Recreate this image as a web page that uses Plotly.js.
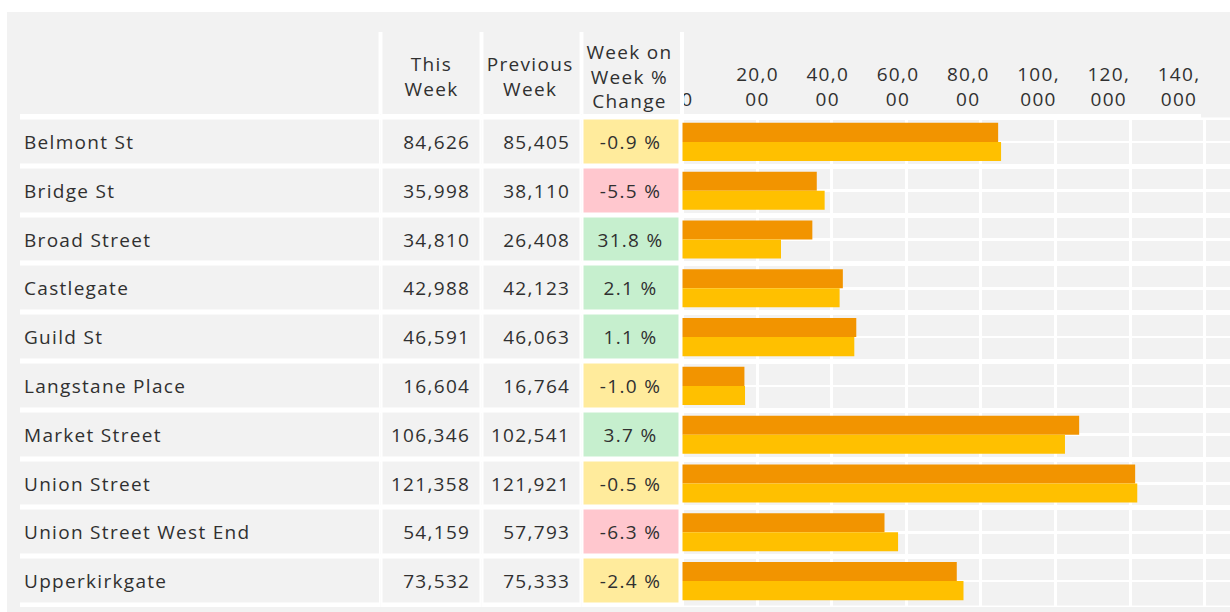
<!DOCTYPE html>
<html>
<head>
<meta charset="utf-8">
<script src="https://cdn.plot.ly/plotly-3.0.1.min.js"></script>
<style>
html, body { margin: 0; padding: 0; background: #ffffff; }
#chart { position: absolute; left: 7px; top: 12px; width: 1223px; height: 600px; }
#chart text { letter-spacing: 1.3px; }
</style>
</head>
<body>
<div id="chart"></div>
<script>
// ---- data ----
const streets = ['Belmont St', 'Bridge St', 'Broad Street', 'Castlegate', 'Guild St',
  'Langstane Place', 'Market Street', 'Union Street', 'Union Street West End', 'Upperkirkgate'];
const thisWeek = [84626, 35998, 34810, 42988, 46591, 16604, 106346, 121358, 54159, 73532];
const previousWeek = [85405, 38110, 26408, 42123, 46063, 16764, 102541, 121921, 57793, 75333];
const weekChange = [-0.9, -5.5, 31.8, 2.1, 1.1, -1.0, 3.7, -0.5, -6.3, -2.4];
const columnHeaders = ['This<br>Week', 'Previous<br>Week', 'Week on<br>Week %<br>Change'];
const seriesNames = ['This Week', 'Previous Week'];
const axisTickValues = [0, 20000, 40000, 60000, 80000, 100000, 120000, 140000];

// ---- styling / layout helpers ----
const W = 1223, H = 600, OX = 7, OY = 12;
const px = x => (x - OX) / W;
const py = y => 1 - (y - OY) / H;
const FONT = 'Open Sans, Noto Sans, sans-serif';
const TXT = '#303030';
const GRAY = '#f2f2f2';
const font = { family: FONT, size: 19, color: TXT };
const fmt = v => v.toLocaleString('en-US');
const wrapTick = v => { const s = fmt(v); return s.length > 4 ? s.slice(0, 4) + '<br>' + s.slice(4) : s; };

const flat = [[0, GRAY], [1, GRAY]];
function cellColumn(xa, name, z, extra) {
  return Object.assign({
    type: 'heatmap', x: [name], y: streets, z: z.map(v => [v]),
    xaxis: xa, yaxis: 'y', colorscale: flat, showscale: false,
    xgap: 4, ygap: 5, hoverinfo: 'skip'
  }, extra || {});
}

const traces = [
  cellColumn('x', 'Street', thisWeek),
  cellColumn('x2', seriesNames[0], thisWeek),
  cellColumn('x3', seriesNames[1], previousWeek),
  cellColumn('x4', 'Change', weekChange, {
    zmin: -10, zmax: 40,
    colorscale: [[0, '#ffc7ce'], [0.1, '#ffc7ce'], [0.1, '#ffeb9c'], [0.2, '#ffeb9c'],
                 [0.2, '#c6efce'], [1, '#c6efce']],
    text: weekChange.map(v => [v.toFixed(1) + ' %']),
    texttemplate: '%{text}', textfont: font
  }),
  { type: 'bar', orientation: 'h', name: seriesNames[0], x: thisWeek, y: streets,
    xaxis: 'x5', yaxis: 'y', marker: { color: '#f29400', line: { width: 0 } }, hoverinfo: 'skip' },
  { type: 'bar', orientation: 'h', name: seriesNames[1], x: previousWeek, y: streets,
    xaxis: 'x5', yaxis: 'y', marker: { color: '#ffc000', line: { width: 0 } }, hoverinfo: 'skip' },
  { type: 'scatter', mode: 'markers', x: [], y: [], xaxis: 'x5', yaxis: 'y2', hoverinfo: 'skip' },
  { type: 'scatter', mode: 'markers', x: [], y: [], xaxis: 'x6', yaxis: 'y', hoverinfo: 'skip' }
];

const hiddenX = d => ({ domain: d, showgrid: false, zeroline: false, showticklabels: false,
  ticks: '', showline: false, fixedrange: true, anchor: 'y' });
const yRange = [9.5307, -0.5717];

const annotations = [];
const headerX = [431, 530, 629];
columnHeaders.forEach((h, i) => annotations.push({
  xref: 'paper', yref: 'paper', x: px(headerX[i]), y: py(76), xanchor: 'center', yanchor: 'middle',
  text: h, showarrow: false, align: 'center', font: font
}));
streets.forEach((s, i) => {
  annotations.push({ xref: 'x domain', yref: 'y', x: 0, y: i, xanchor: 'left', align: 'left',
    xshift: 4, text: s, showarrow: false, font: font });
  annotations.push({ xref: 'x2 domain', yref: 'y', x: 1, y: i, xanchor: 'right', align: 'right',
    xshift: -10, text: fmt(thisWeek[i]), showarrow: false, font: font });
  annotations.push({ xref: 'x3 domain', yref: 'y', x: 1, y: i, xanchor: 'right', align: 'right',
    xshift: -10, text: fmt(previousWeek[i]), showarrow: false, font: font });
});

const shapes = [
  { type: 'rect', xref: 'x5 domain', yref: 'y', x0: 4 / 550, x1: 1, y0: -0.5, y1: streets.length - 0.5,
    fillcolor: GRAY, line: { width: 0 }, layer: 'below' },
  // panel edge left of the first column and beyond the axis header rule
  { type: 'rect', xref: 'paper', yref: 'paper', x0: px(17), x1: px(20), y0: py(608), y1: py(113),
    fillcolor: GRAY, line: { width: 0 } },
  { type: 'rect', xref: 'paper', yref: 'paper', x0: px(1201), x1: 1, y0: py(117.5), y1: py(113),
    fillcolor: GRAY, line: { width: 0 } }
];
[380.5, 481.5, 581.5, 682].forEach(x => shapes.push({
  type: 'line', xref: 'paper', yref: 'paper', x0: px(x), x1: px(x), y0: py(32), y1: py(114),
  line: { color: '#ffffff', width: 4 }
}));

const layout = {
  width: W, height: H, margin: { l: 0, r: 0, t: 0, b: 0, pad: 0 },
  paper_bgcolor: GRAY, plot_bgcolor: '#ffffff',
  showlegend: false, hovermode: false, dragmode: false,
  barmode: 'group', bargap: 0.22, bargroupgap: 0,
  font: font,
  xaxis: hiddenX([px(18), px(380.5)]),
  xaxis2: hiddenX([px(380.5), px(481.5)]),
  xaxis3: hiddenX([px(481.5), px(581.5)]),
  xaxis4: hiddenX([px(581.5), px(680)]),
  xaxis5: { domain: [px(680), 1], anchor: 'y', range: [-670, 146783], showgrid: true,
    gridcolor: '#ffffff', gridwidth: 3, tick0: 0, dtick: 20000, showticklabels: false,
    ticks: '', zeroline: false, showline: false, fixedrange: true },
  xaxis6: { overlaying: 'x5', anchor: 'free', position: py(110), side: 'top',
    range: [-2064, 154520], tickmode: 'array', tickvals: axisTickValues,
    ticktext: axisTickValues.map(wrapTick), showgrid: false, zeroline: false, ticks: '',
    showline: false, tickfont: font, fixedrange: true },
  yaxis: { domain: [py(607), py(114)], type: 'category', categoryorder: 'array',
    categoryarray: streets, range: yRange, tickson: 'boundaries', showgrid: true,
    gridcolor: '#ffffff', gridwidth: 5, showticklabels: false, ticks: '', zeroline: false,
    showline: false, fixedrange: true, anchor: 'x' },
  yaxis2: { overlaying: 'y', anchor: 'x5', type: 'category', categoryorder: 'array',
    categoryarray: streets, range: yRange, showgrid: true, gridcolor: '#ffffff', gridwidth: 2.5,
    showticklabels: false, ticks: '', zeroline: false, showline: false, fixedrange: true },
  annotations: annotations,
  shapes: shapes
};

Plotly.newPlot('chart', traces, layout, { displayModeBar: false, staticPlot: true });
</script>
</body>
</html>
